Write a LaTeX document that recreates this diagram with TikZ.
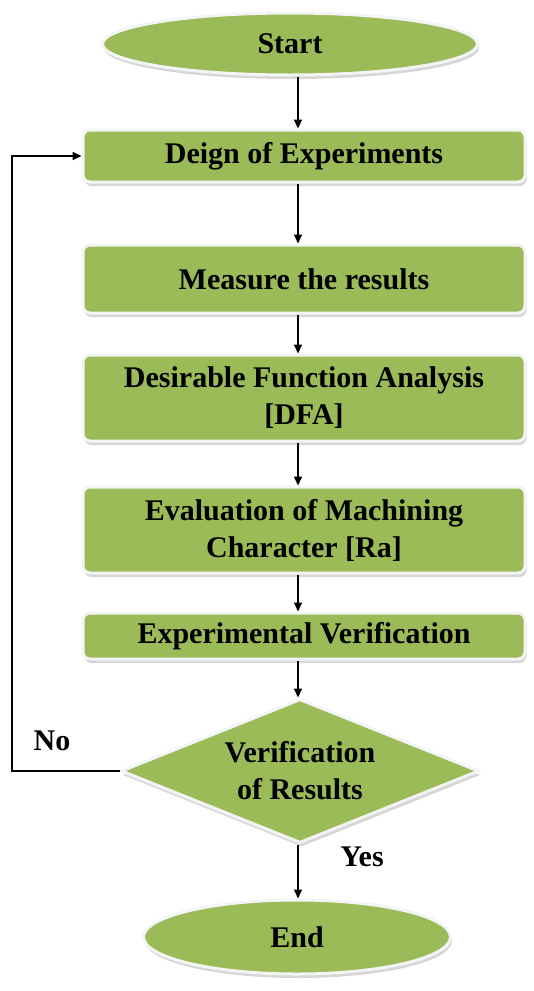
\documentclass[tikz,border=0pt]{standalone}
\usepackage{fontspec}
\setmainfont{Liberation Serif}
\usetikzlibrary{shapes.geometric,shadows,arrows.meta}
\definecolor{leaf}{HTML}{9BBB59}
\definecolor{rim}{HTML}{F4F4F4}
\begin{document}
\begin{tikzpicture}[x=1pt,y=-1pt,
  font=\fontsize{30}{37}\selectfont\bfseries,
  shape base/.style={fill=leaf, draw=rim, line width=3pt,
    drop shadow={shadow xshift=1.5pt, shadow yshift=-4pt, fill=black!32}},
  stepbox/.style={shape base, rectangle, rounded corners=7pt,
    minimum width=442pt, align=center, inner sep=0pt},
  terminal/.style={shape base, ellipse, inner sep=0pt},
  decision/.style={shape base, diamond, aspect=2.5, inner sep=0pt, align=center,
    minimum width=358pt, minimum height=144pt},
  flow/.style={draw=black, line width=1.6pt, -{Triangle[length=9pt,width=8pt]}},
  tag/.style={font=\fontsize{30}{34}\selectfont\bfseries}
]
\useasboundingbox (0,0) rectangle (534,991);

% process nodes, top to bottom
\node[terminal, minimum width=375pt, minimum height=62pt] (start) at (290,44) {Start};
\node[stepbox, minimum height=52pt] (doe) at (304,156) {Deign of Experiments};
\node[stepbox, minimum height=68pt] (meas) at (304,279) {Measure the results};
\node[stepbox, minimum height=86pt] (dfa) at (304,398) {Desirable Function Analysis\\{[DFA]}};
\node[stepbox, minimum height=86pt] (eval) at (304,530) {Evaluation of Machining\\Character [Ra]};
\node[stepbox, minimum height=46pt] (expv) at (304,636) {Experimental Verification};
\node[decision] (check) at (300,771) {Verification\\of Results};
\node[terminal, minimum width=307pt, minimum height=74pt] (finish) at (297,937) {End};

% vertical flow axis and the return line on the left
\coordinate (axis) at (298,0);
\coordinate (back) at (12,0);

\draw[flow] (start.south -| axis) -- (doe.north -| axis);
\draw[flow] (doe.south -| axis) -- (meas.north -| axis);
\draw[flow] (meas.south -| axis) -- (dfa.north -| axis);
\draw[flow] (dfa.south -| axis) -- (eval.north -| axis);
\draw[flow] (eval.south -| axis) -- (expv.north -| axis);
\draw[flow] (expv.south -| axis) -- (check.north -| axis);
\draw[flow] (check.south -| axis) -- (finish.north -| axis);
\draw[flow] (check.west) -- (check.west -| back) |- (doe.west);

% branch labels
\node[tag] (no) at (52,741) {No};
\node[tag] (yes) at (362,857) {Yes};
\end{tikzpicture}
\end{document}
